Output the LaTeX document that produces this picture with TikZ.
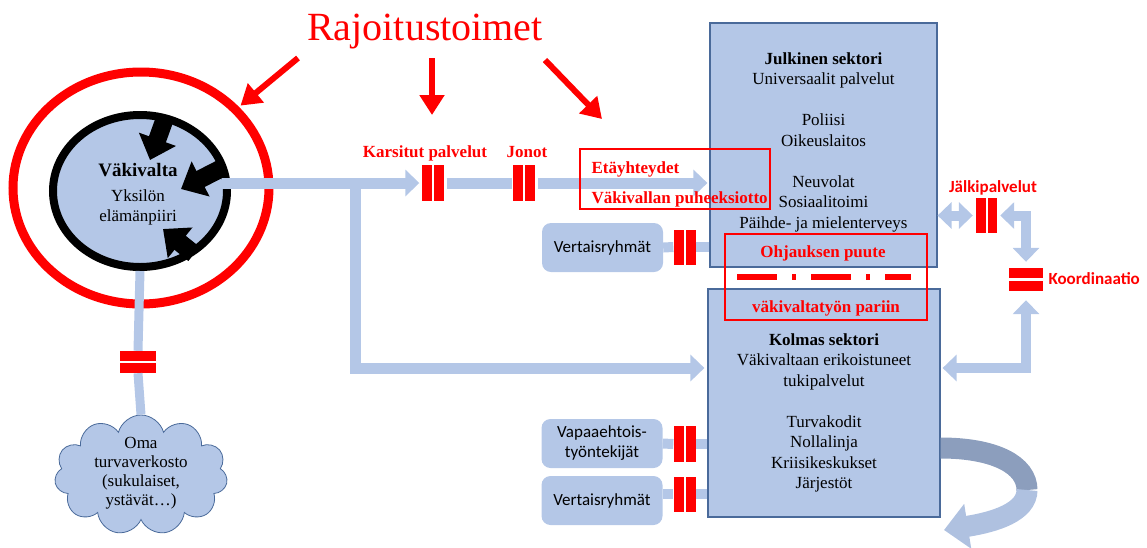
\documentclass[tikz,border=0pt]{standalone}
\usepackage{fontspec}
\usepackage{xcolor}
\usepackage{tikz}
\usetikzlibrary{arrows.meta,shapes.geometric,shapes.symbols}
\setmainfont{Liberation Serif}
\newfontfamily\calibri{Carlito}
\definecolor{vaalea}{HTML}{B4C7E7}
\definecolor{reuna}{HTML}{4A6A9A}
\definecolor{puna}{HTML}{FF0000}
\definecolor{kierto}{HTML}{AFC1E0}
\definecolor{kiertotumma}{HTML}{8C9EBD}
\newcommand{\koko}[2]{\fontsize{#1}{#2}\selectfont}
\tikzset{
	yhteys/.style={draw=vaalea, line width=11pt},
	nuoli/.style={yhteys, -{Triangle[width=26pt,length=14pt]}},
	kaksinuoli/.style={yhteys, {Triangle[width=26pt,length=14pt]}-{Triangle[width=26pt,length=14pt]}},
	portti/.style={fill=puna, minimum width=22pt, minimum height=36pt, inner sep=0pt,
		path picture={\draw[white,line width=2pt] (path picture bounding box.north) -- (path picture bounding box.south);}},
	vaakaportti/.style={fill=puna, minimum width=35pt, minimum height=23pt, inner sep=0pt,
		path picture={\draw[white,line width=2.5pt] (path picture bounding box.west) -- (path picture bounding box.east);}},
	laatikko/.style={draw=reuna, line width=1.2pt, fill=vaalea, inner sep=0pt},
	pieni/.style={fill=vaalea, rounded corners=9pt, minimum width=121pt, minimum height=49pt, align=center, font=\calibri\koko{17}{20}},
	punateksti/.style={text=puna, font=\bfseries\koko{17}{20}},
	punalaatikko/.style={draw=puna, line width=1.8pt, inner sep=0pt},
	rajoitus/.style={draw=puna, line width=6pt, -{Triangle[width=24pt,length=20pt]}},
	isku/.style={line width=18pt, -{Triangle[width=38pt,length=22pt]}},
	teksti/.style={anchor=north, inner sep=0pt, align=center, font=\koko{17}{20.5}}
}
\begin{document}
\begin{tikzpicture}[x=1pt,y=-1pt]
	\useasboundingbox (0,0) rectangle (1147,547);
	% otsikko ja rajoitusnuolet
	\node[text=puna, font=\koko{40}{46}, anchor=base] (otsikko) at (425,40) {Rajoitustoimet};
	\coordinate (r1) at (298,58);
	\coordinate (r2a) at (432,58);
	\coordinate (r2b) at (432,115);
	\coordinate (r3a) at (545,60);
	\coordinate (r3b) at (602,119);
	\coordinate (haara) at (355,183);
	\coordinate (kiertokeski) at (1027,490);
	\coordinate (kiertoloppu) at (944,530);

	% yksilo
	\node[ellipse, draw=puna, line width=9pt, minimum width=256pt, minimum height=232pt] (keha) at (141,188) {};
	\node[ellipse, draw=black, fill=vaalea, line width=8pt, minimum width=174pt, minimum height=152pt] (yksilo) at (140,191) {};
	\node[cloud, cloud puffs=11, aspect=1.5, fill=vaalea, draw=reuna, line width=0.8pt, minimum width=173pt, minimum height=120pt] (oma) at (141,475) {};
	\node[vaakaportti, minimum width=36pt, minimum height=22pt] (omaportti) at (138,362) {};

	% sektorit
	\node[laatikko, minimum width=227pt, minimum height=244pt] (julkinen) at (823.5,145) {};
	\node[laatikko, minimum width=232pt, minimum height=228pt] (kolmas) at (824,403) {};
	\node[pieni] (vertais1) at (602.5,247.5) {Vertaisryhmät};
	\node[pieni] (vapaa) at (602,443.5) {Vapaaehtois-\\työntekijät};
	\node[pieni] (vertais2) at (602,500.5) {Vertaisryhmät};

	% portit
	\node[portti] (karsitut) at (432.5,183) {};
	\node[portti] (jonot) at (524,183) {};
	\node[portti, minimum height=35pt] (vportti1) at (684.5,247) {};
	\node[portti] (vportti2) at (684.5,444) {};
	\node[portti, minimum height=35pt] (vportti3) at (684.5,494) {};
	\node[portti, minimum width=21pt, minimum height=35pt] (jalki) at (986.5,215.5) {};
	\node[vaakaportti, minimum width=34pt] (koord) at (1026,279.5) {};

	% yhteydet
	\draw[nuoli, shorten >=2pt] ([xshift=-9pt]yksilo.east |- karsitut) -- (karsitut.west);
	\draw[yhteys, shorten <=3pt, shorten >=1pt] (karsitut.east) -- (jonot.west);
	\draw[nuoli, shorten <=3pt, shorten >=2pt] (jonot.east) -- (julkinen.west |- jonot);
	\draw[nuoli, shorten >=3pt] (haara) |- ([yshift=35pt]kolmas.west);
	\draw[yhteys, line width=9pt] (yksilo.south) -- (omaportti.north);
	\draw[yhteys, line width=9pt] (omaportti.south) -- (oma.north);
	\draw[yhteys, line width=10pt] (vertais1.east) -- (vportti1.west);
	\draw[yhteys, line width=10pt] (vportti1.east) -- (julkinen.west |- vportti1);
	\draw[yhteys, line width=10pt] (vapaa.east) -- (vportti2.west);
	\draw[yhteys, line width=10pt] (vportti2.east) -- (kolmas.west |- vportti2);
	\draw[yhteys, line width=10pt] (vertais2.east |- vportti3) -- (vportti3.west);
	\draw[yhteys, line width=10pt] (vportti3.east) -- (kolmas.west |- vportti3);
	\draw[kaksinuoli, line width=10pt, shorten >=3pt] (julkinen.east |- jalki) -- (jalki.west);
	\draw[kaksinuoli, line width=10pt, shorten <=3pt, shorten >=6pt] (jalki.east) -| (koord.north);
	\draw[kaksinuoli, line width=10pt, shorten <=9pt, shorten >=2pt] (koord.south) |- ([yshift=35pt]kolmas.east);
	\draw[line width=21pt, draw=kiertotumma] ([yshift=-45pt]kolmas.east) .. controls (995,448) and (1027,465) .. (kiertokeski);
	\draw[line width=21pt, draw=kierto, -{Triangle[width=44pt,length=24pt]}] (kiertokeski) .. controls (1027,512) and (995,522) .. (kiertoloppu);

	% vakivalta
	\draw[isku] (164,121) -- (150,160);
	\draw[isku] (222,168) -- (181,189);
	\draw[isku] (194,254) -- (163,229);
	\draw[rajoitus, shorten >=2pt] (r1) -- (keha);
	\draw[rajoitus] (r2a) -- (r2b);
	\draw[rajoitus] (r3a) -- (r3b);

	% tekstit
	\node[teksti, font=\koko{17}{20}] (vakivalta) at (138,163.5) {{\bfseries\fontsize{19}{20}\selectfont Väkivalta}\\[5pt]Yksilön\\elämänpiiri};
	\node[teksti, font=\koko{17}{19}] (omateksti) at (141,437) {Oma\\turvaverkosto\\(sukulaiset,\\ystävät…)};
	\node[teksti] (julkinenteksti) at (823.5,52) {\textbf{Julkinen sektori}\\Universaalit palvelut\\[20.5pt]Poliisi\\Oikeuslaitos\\[20.5pt]Neuvolat\\Sosiaalitoimi\\Päihde- ja mielenterveys};
	\node[teksti] (kolmasteksti) at (824,333) {\textbf{Kolmas sektori}\\Väkivaltaan erikoistuneet\\tukipalvelut\\[20.5pt]Turvakodit\\Nollalinja\\Kriisikeskukset\\Järjestöt};
	\node[punateksti, anchor=base] (karsitutteksti) at (425,157) {Karsitut palvelut};
	\node[punateksti, anchor=base] (jonotteksti) at (527,157) {Jonot};
	\node[punateksti, anchor=base, font=\calibri\bfseries\koko{17}{20}] (jalkiteksti) at (993,192) {Jälkipalvelut};
	\node[punateksti, anchor=base west, font=\calibri\bfseries\koko{17}{20}] (koordteksti) at (1045,284) {Koordinaatio};

	% punaiset laatikot
	\node[punalaatikko, minimum width=190pt, minimum height=60pt] (etay) at (675,179) {};
	\node[punateksti, anchor=base west] (etayteksti) at (588,173) {Etäyhteydet};
	\node[punateksti, anchor=base west] (puheeksi) at (588,203) {Väkivallan puheeksiotto};
	\node[punalaatikko, minimum width=202pt, minimum height=86pt] (ohjaus) at (826,277) {};
	\node[punateksti, anchor=base] (ohjausteksti) at (823,257) {Ohjauksen puute};
	\node[punateksti, anchor=base] (pariin) at (826,312) {väkivaltatyön pariin};
	\draw[draw=puna, line width=6pt, dash pattern=on 40pt off 15pt on 4pt off 15pt] ([xshift=13pt]ohjaus.west) -- ([xshift=-17pt]ohjaus.east);
\end{tikzpicture}
\end{document}
